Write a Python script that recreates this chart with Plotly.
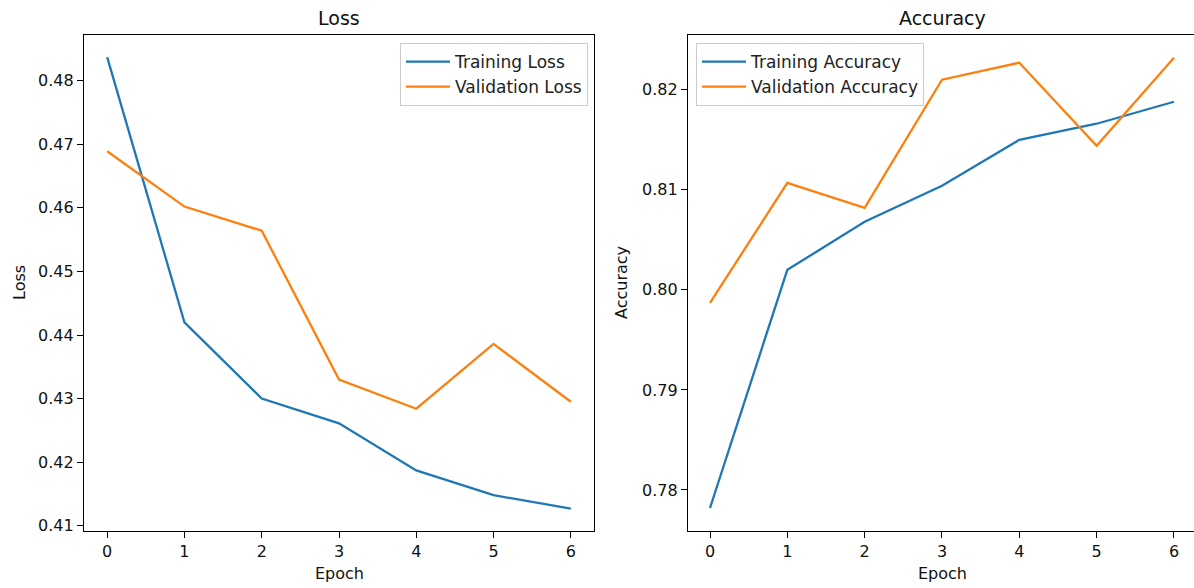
import plotly.graph_objects as go

epochs = [0, 1, 2, 3, 4, 5, 6]
train_loss = [0.4837, 0.4420, 0.4300, 0.4261, 0.4187, 0.4148, 0.4127]
val_loss = [0.4689, 0.4602, 0.4564, 0.4330, 0.4284, 0.4386, 0.4295]
train_acc = [0.7782, 0.8020, 0.8068, 0.8104, 0.8150, 0.8166, 0.8188]
val_acc = [0.7987, 0.8107, 0.8082, 0.8210, 0.8227, 0.8144, 0.8232]
loss_ticks = [0.41, 0.42, 0.43, 0.44, 0.45, 0.46, 0.47, 0.48]
acc_ticks = [0.78, 0.79, 0.80, 0.81, 0.82]

W, H = 1194, 588
BLUE, ORANGE = "#1f77b4", "#ff7f0e"
FONT = "DejaVu Sans"

def px(x):
    return x / W

def py(y):
    return 1 - y / H

fig = go.Figure()
fig.add_trace(go.Scatter(x=epochs, y=train_loss, mode="lines", name="Training Loss",
                         line=dict(color=BLUE, width=2.3), xaxis="x", yaxis="y", legend="legend"))
fig.add_trace(go.Scatter(x=epochs, y=val_loss, mode="lines", name="Validation Loss",
                         line=dict(color=ORANGE, width=2.3), xaxis="x", yaxis="y", legend="legend"))
fig.add_trace(go.Scatter(x=epochs, y=train_acc, mode="lines", name="Training Accuracy",
                         line=dict(color=BLUE, width=2.3), xaxis="x2", yaxis="y2", legend="legend2"))
fig.add_trace(go.Scatter(x=epochs, y=val_acc, mode="lines", name="Validation Accuracy",
                         line=dict(color=ORANGE, width=2.3), xaxis="x2", yaxis="y2", legend="legend2"))

axis_common = dict(showgrid=False, zeroline=False, showline=True, linecolor="black", linewidth=1.2,
                   ticks="outside", ticklen=6, tickwidth=1.2, tickcolor="black",
                   tickfont=dict(family=FONT, size=16, color="#111111"), automargin=False)

ydom = [py(531), py(35)]
legend_common = dict(bgcolor="white", bordercolor="#cccccc", borderwidth=1, itemwidth=44,
                     font=dict(family=FONT, size=17, color="#222222"), tracegroupgap=0)
fig.update_layout(
    width=W, height=H,
    margin=dict(l=0, r=0, t=0, b=0),
    paper_bgcolor="white", plot_bgcolor="white",
    font=dict(family=FONT, size=16, color="black"),
    xaxis=dict(domain=[px(84), px(594)], range=[-0.3, 6.3], tickvals=epochs, mirror=True,
               anchor="y", **axis_common),
    yaxis=dict(domain=ydom, range=[0.40917, 0.48719], tickvals=loss_ticks,
               tickformat=".2f", mirror=True, anchor="x", **axis_common),
    xaxis2=dict(domain=[px(688), 1.0], range=[-0.2845, 6.259], tickvals=epochs, mirror=True,
                anchor="y2", **axis_common),
    yaxis2=dict(domain=ydom, range=[0.7759, 0.82547], tickvals=acc_ticks,
                tickformat=".2f", mirror=False, anchor="x2", **axis_common),
    legend=dict(x=px(588), y=py(43), xanchor="right", yanchor="top", **legend_common),
    legend2=dict(x=px(696), y=py(43), xanchor="left", yanchor="top", **legend_common),
    showlegend=True,
)

annots = [
    dict(text="Loss", x=px(339), y=py(18), size=19, angle=0),
    dict(text="Accuracy", x=px(942), y=py(18), size=19, angle=0),
    dict(text="Epoch", x=px(339), y=py(573), size=16, angle=0),
    dict(text="Epoch", x=px(942), y=py(573), size=16, angle=0),
    dict(text="Loss", x=px(19), y=py(283), size=16, angle=-90),
    dict(text="Accuracy", x=px(621), y=py(283), size=16, angle=-90),
]
for a in annots:
    fig.add_annotation(xref="paper", yref="paper", showarrow=False,
                       xanchor="center", yanchor="middle",
                       font=dict(family=FONT, size=a["size"], color="#111111"),
                       text=a["text"], x=a["x"], y=a["y"], textangle=a["angle"])

fig.write_html("out.html", config={"displayModeBar": False},
               post_script="document.body.style.margin='0';document.body.style.overflow='hidden';")
